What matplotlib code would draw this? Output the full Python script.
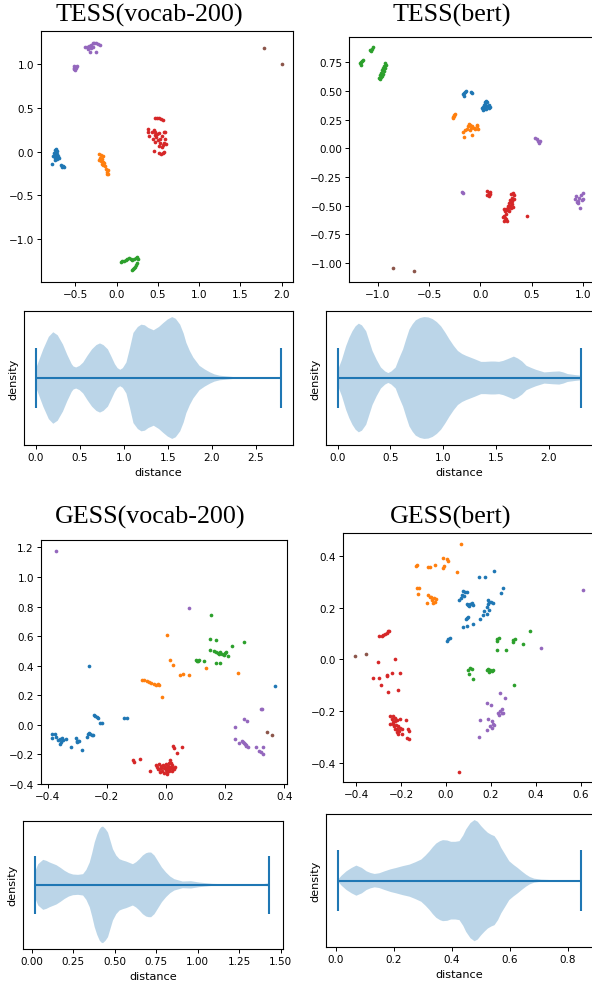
import matplotlib
matplotlib.use("Agg")
import matplotlib.pyplot as plt
import numpy as np

# ---------------- data ----------------
# TESS (vocab-200) scatter
TV_BLUE = [(-0.75,0.02),(-0.73,0.03),(-0.72,0.01),(-0.74,-0.01),(-0.76,-0.02),(-0.72,-0.03),(-0.74,-0.04),
           (-0.77,-0.05),(-0.71,-0.05),(-0.73,-0.06),(-0.75,-0.07),(-0.72,-0.08),(-0.70,-0.07),(-0.74,-0.09),
           (-0.78,-0.14),(-0.67,-0.15),(-0.65,-0.16),(-0.66,-0.18),(-0.64,-0.17)]
TV_ORANGE = [(-0.21,-0.03),(-0.19,-0.04),(-0.17,-0.05),(-0.20,-0.07),(-0.18,-0.08),(-0.21,-0.10),(-0.19,-0.11),
             (-0.17,-0.12),(-0.15,-0.13),(-0.18,-0.14),(-0.16,-0.15),(-0.14,-0.16),(-0.10,-0.21),(-0.11,-0.23),
             (-0.10,-0.25),(-0.12,-0.26),(-0.13,-0.20)]
TV_GREEN = [(0.05,-1.26),(0.07,-1.25),(0.09,-1.25),(0.11,-1.24),(0.13,-1.23),(0.15,-1.22),(0.17,-1.23),
            (0.19,-1.24),(0.21,-1.23),(0.23,-1.22),(0.25,-1.21),(0.26,-1.23),(0.25,-1.28),(0.24,-1.30),
            (0.22,-1.32),(0.20,-1.34),(0.19,-1.35),(0.21,-1.33)]
TV_RED = [(0.47,0.39),(0.49,0.39),(0.52,0.39),(0.54,0.38),(0.56,0.36),(0.38,0.26),(0.38,0.23),(0.39,0.18),
          (0.45,0.25),(0.47,0.22),(0.49,0.20),(0.46,0.19),(0.48,0.17),(0.51,0.21),(0.53,0.15),(0.55,0.18),
          (0.50,0.13),(0.57,0.23),(0.59,0.22),(0.58,0.10),(0.56,0.08),(0.55,0.05),(0.53,0.10),(0.45,0.01),
          (0.52,-0.01),(0.54,-0.03),(0.56,-0.02),(0.57,0.00),(0.60,0.09),(0.44,0.15),(0.47,0.11),(0.51,0.06),
          (0.59,0.15),(0.43,0.22)]
TV_PURPLE = [(-0.38,1.20),(-0.36,1.20),(-0.33,1.21),(-0.31,1.22),(-0.29,1.24),(-0.27,1.25),(-0.25,1.24),
             (-0.22,1.23),(-0.20,1.22),(-0.28,1.20),(-0.31,1.19),(-0.32,1.14),(-0.25,1.14),(-0.34,1.18),
             (-0.51,0.98),(-0.50,0.97),(-0.49,0.96),(-0.51,0.95),(-0.50,0.94),(-0.49,0.97),(-0.52,0.96),(-0.48,0.98)]
TV_BROWN = [(1.79,1.19),(2.00,1.00)]

# TESS (bert) scatter
TB_BLUE = [(-0.17,0.47),(-0.16,0.48),(-0.15,0.49),(-0.14,0.50),(-0.16,0.46),(-0.09,0.49),(-0.08,0.48),
           (0.02,0.35),(0.03,0.36),(0.04,0.38),(0.05,0.40),(0.06,0.41),(0.07,0.40),(0.08,0.38),(0.05,0.36),
           (0.06,0.34),(0.03,0.33),(0.04,0.34),(0.08,0.35),(0.09,0.36),(0.07,0.37),(0.05,0.39)]
TB_ORANGE = [(-0.27,0.27),(-0.26,0.28),(-0.25,0.30),(-0.26,0.29),(-0.27,0.26),(-0.17,0.14),(-0.16,0.10),
             (-0.15,0.16),(-0.13,0.17),(-0.12,0.19),(-0.11,0.21),(-0.10,0.20),(-0.09,0.18),(-0.08,0.19),
             (-0.06,0.18),(-0.05,0.17),(-0.03,0.19),(-0.02,0.17),(-0.03,0.20),(-0.08,0.12),(-0.10,0.16)]
TB_GREEN = [(-1.08,0.86),(-1.06,0.87),(-1.07,0.85),(-1.05,0.88),(-1.17,0.74),(-1.16,0.75),(-1.15,0.76),
            (-1.14,0.77),(-1.16,0.73),(-0.93,0.74),(-0.92,0.73),(-0.94,0.72),(-0.95,0.70),(-0.93,0.70),
            (-0.96,0.68),(-0.97,0.66),(-0.95,0.65),(-0.98,0.64),(-0.97,0.62),(-0.99,0.61),(-0.98,0.60),
            (-0.96,0.63),(-0.94,0.67)]
TB_RED = [(0.07,-0.37),(0.08,-0.39),(0.07,-0.41),(0.09,-0.38),(0.08,-0.42),(0.09,-0.40),
          (0.30,-0.40),(0.32,-0.39),(0.33,-0.41),(0.31,-0.43),(0.29,-0.45),(0.30,-0.47),(0.28,-0.48),
          (0.29,-0.50),(0.31,-0.49),(0.32,-0.51),(0.27,-0.52),(0.25,-0.53),(0.23,-0.53),(0.24,-0.55),
          (0.26,-0.54),(0.28,-0.55),(0.25,-0.57),(0.23,-0.59),(0.24,-0.61),(0.22,-0.60),(0.25,-0.62),
          (0.26,-0.63),(0.23,-0.63),(0.31,-0.46),(0.33,-0.44),(0.30,-0.52),(0.27,-0.50),(0.46,-0.59)]
TB_PURPLE = [(0.53,0.09),(0.55,0.08),(0.56,0.06),(0.57,0.05),(0.58,0.06),(-0.18,-0.38),(-0.17,-0.39),
             (0.92,-0.44),(0.93,-0.42),(0.95,-0.46),(0.96,-0.43),(0.94,-0.47),(0.98,-0.41),(1.00,-0.39),
             (0.97,-0.52),(1.00,-0.44),(0.99,-0.45),(0.95,-0.48)]
TB_BROWN = [(-0.85,-1.04),(-0.65,-1.07)]

# GESS (vocab-200) scatter
GV_BLUE = [(-0.384,-0.065),(-0.384,-0.088),(-0.375,-0.065),(-0.373,-0.083),(-0.366,-0.101),(-0.358,-0.095),
           (-0.355,-0.117),(-0.358,-0.128),(-0.350,-0.090),(-0.347,-0.100),(-0.339,-0.099),(-0.321,-0.153),
           (-0.305,-0.090),(-0.302,-0.106),(-0.297,-0.112),(-0.295,-0.106),(-0.300,-0.117),(-0.283,-0.173),
           (-0.268,-0.083),(-0.264,-0.061),(-0.260,-0.054),(-0.255,-0.065),(-0.251,-0.070),(-0.246,-0.068),
           (-0.242,0.068),(-0.238,0.059),(-0.234,0.050),(-0.229,0.045),(-0.223,0.014),(-0.217,0.014),
           (-0.141,0.045),(-0.133,0.045),(-0.260,0.396),(0.370,0.261)]
GV_ORANGE = [(0.005,0.610),(0.014,0.439),(0.025,0.405),(0.047,0.340),(0.058,0.347),(0.077,0.338),
             (0.134,0.383),(0.245,0.351),(-0.080,0.306),(-0.073,0.300),(-0.065,0.296),(-0.057,0.290),
             (-0.049,0.284),(-0.039,0.277),(-0.034,0.272),(-0.028,0.273),(-0.022,0.268),(-0.012,0.187)]
GV_GREEN = [(0.153,0.745),(0.150,0.581),(0.170,0.572),(0.263,0.559),(0.224,0.532),(0.148,0.509),
            (0.161,0.502),(0.168,0.491),(0.176,0.486),(0.183,0.491),(0.189,0.482),(0.196,0.473),
            (0.201,0.486),(0.204,0.491),(0.209,0.464),(0.180,0.480),(0.103,0.439),(0.108,0.430),
            (0.112,0.439),(0.106,0.432),(0.130,0.435),(0.170,0.421),(0.183,0.417)]
GV_RED = [(-0.110,-0.241),(-0.107,-0.252),(-0.087,-0.230),(-0.054,-0.309),(0.025,-0.144),(0.028,-0.158),
          (0.036,-0.191),(0.055,-0.149),(-0.033,-0.270),(-0.030,-0.285),(-0.025,-0.265),(-0.022,-0.300),
          (-0.018,-0.278),(-0.015,-0.290),(-0.012,-0.310),(-0.010,-0.270),(-0.006,-0.295),(-0.003,-0.282),
          (0.000,-0.305),(0.002,-0.320),(0.005,-0.290),(0.008,-0.275),(0.010,-0.300),(0.012,-0.315),
          (0.015,-0.285),(0.018,-0.295),(0.020,-0.310),(0.022,-0.270),(0.025,-0.290),(0.028,-0.300),
          (0.013,-0.240),(0.018,-0.255),(0.030,-0.285),(-0.005,-0.325),(0.005,-0.330),(-0.020,-0.320),
          (-0.028,-0.300),(0.000,-0.268),(0.010,-0.255)]
GV_PURPLE = [(-0.370,1.178),(0.078,0.788),(0.321,0.106),(0.325,0.104),(0.264,0.041),(0.273,0.025),
             (0.235,-0.014),(0.235,-0.095),(0.248,-0.124),(0.257,-0.106),(0.261,-0.115),(0.266,-0.128),
             (0.270,-0.135),(0.276,-0.151),(0.263,-0.120),(0.272,-0.140),(0.304,-0.153),(0.313,-0.180),
             (0.320,-0.185),(0.329,-0.196),(0.329,-0.153)]
GV_BROWN = [(0.343,-0.050),(0.358,-0.068)]

# GESS (bert) scatter
GB_BLUE = [(0.214,0.342),(0.149,0.316),(0.174,0.316),(0.253,0.275),(0.245,0.255),(0.077,0.265),(0.085,0.258),
           (0.092,0.258),(0.070,0.249),(0.080,0.245),(0.065,0.236),(0.059,0.228),(0.092,0.213),(0.099,0.209),
           (0.107,0.213),(0.114,0.216),(0.119,0.209),(0.104,0.207),(0.186,0.228),(0.193,0.223),(0.200,0.222),
           (0.208,0.219),(0.189,0.213),(0.181,0.203),(0.168,0.185),(0.193,0.190),(0.181,0.174),(0.163,0.170),
           (0.152,0.155),(0.092,0.161),(0.099,0.164),(0.089,0.155),(0.077,0.125),(0.092,0.129),(0.119,0.138),
           (0.010,0.077),(0.018,0.081),(0.006,0.071)]
GB_ORANGE = [(0.065,0.443),(-0.015,0.390),(0.003,0.387),(0.007,0.380),(-0.009,0.361),(-0.012,0.352),
             (-0.131,0.365),(-0.134,0.359),(-0.079,0.357),(-0.071,0.355),(-0.049,0.364),(0.050,0.338),
             (-0.128,0.277),(-0.121,0.277),(-0.126,0.254),(-0.079,0.249),(-0.071,0.241),(-0.083,0.219),
             (-0.064,0.231),(-0.053,0.235),(-0.045,0.232),(-0.049,0.222),(-0.059,0.219),(-0.068,0.240)]
GB_GREEN = [(0.374,0.110),(0.229,0.077),(0.238,0.083),(0.226,0.070),(0.297,0.074),(0.307,0.077),(0.300,0.067),
            (0.342,0.058),(0.226,0.035),(0.267,0.035),(0.107,-0.032),(0.100,-0.041),(0.114,-0.035),
            (0.104,-0.054),(0.119,-0.077),(0.181,-0.041),(0.189,-0.038),(0.196,-0.041),(0.204,-0.045),
            (0.193,-0.049),(0.208,-0.041),(0.303,-0.100)]
GB_RED = [(-0.297,0.090),(-0.287,0.092),(-0.279,0.096),(-0.272,0.098),(-0.264,0.102),(-0.257,0.109),
          (-0.252,0.111),(-0.305,-0.009),(-0.227,0.000),(-0.324,-0.073),(-0.299,-0.070),(-0.264,-0.058),
          (-0.264,-0.062),(-0.239,-0.051),(-0.205,-0.051),(-0.291,-0.100),(-0.260,-0.124),(-0.212,-0.118),
          (0.058,-0.435),(-0.250,-0.217),(-0.235,-0.217),(-0.227,-0.224),(-0.242,-0.230),(-0.238,-0.240),
          (-0.227,-0.237),(-0.220,-0.233),(-0.205,-0.228),(-0.250,-0.249),(-0.235,-0.249),(-0.223,-0.253),
          (-0.212,-0.258),(-0.205,-0.262),(-0.217,-0.269),(-0.227,-0.266),(-0.208,-0.275),(-0.198,-0.269),
          (-0.212,-0.288),(-0.198,-0.288),(-0.178,-0.234),(-0.168,-0.266),(-0.163,-0.275),(-0.175,-0.304),
          (-0.165,-0.307),(-0.220,-0.279),(-0.232,-0.258)]
GB_PURPLE = [(0.609,0.267),(0.422,0.043),(0.241,-0.128),(0.263,-0.147),(0.181,-0.169),(0.199,-0.176),
             (0.248,-0.189),(0.241,-0.198),(0.233,-0.207),(0.248,-0.207),(0.256,-0.205),(0.237,-0.214),
             (0.152,-0.233),(0.189,-0.230),(0.204,-0.237),(0.211,-0.249),(0.196,-0.256),(0.204,-0.262),
             (0.214,-0.253),(0.181,-0.272),(0.149,-0.300)]
GB_BROWN = [(-0.406,0.015),(-0.357,0.023)]

# Violin density profiles (distance grid, relative density) and extrema
TV_DIST = [0.0,0.087,0.15,0.2,0.25,0.31,0.36,0.41,0.43,0.46,0.50,0.54,0.59,0.64,0.69,0.73,0.77,0.82,0.86,
           0.90,0.93,0.96,0.99,1.03,1.07,1.11,1.16,1.20,1.24,1.28,1.34,1.40,1.45,1.50,1.55,1.59,1.64,1.68,
           1.71,1.75,1.79,1.86,1.92,1.98,2.03,2.09,2.24,2.47,2.78]
TV_DENS = [25,87,125,139,130,102,70,42,35,32,37,47,68,87,100,105,100,87,65,42,30,25,30,47,90,137,155,162,
           160,152,145,155,167,178,185,180,162,135,107,82,62,37,26,17,11,7,3,1.5,1]
TV_MIN, TV_MAX = 0.0, 2.78

TB_DIST = [0.0,0.04,0.08,0.11,0.14,0.17,0.2,0.23,0.27,0.30,0.33,0.37,0.41,0.45,0.48,0.51,0.55,0.58,0.62,
           0.65,0.68,0.71,0.74,0.78,0.82,0.86,0.90,0.94,0.98,1.02,1.06,1.10,1.14,1.18,1.22,1.26,1.30,1.36,
           1.40,1.45,1.49,1.53,1.57,1.61,1.67,1.71,1.75,1.79,1.84,1.88,1.96,2.00,2.04,2.10,2.14,2.18,2.25,2.31]
TB_DENS = [22,55,97,122,142,157,165,160,142,112,82,55,32,20,15,20,32,57,87,118,147,163,175,182,185,184,
           179,170,157,138,117,98,82,73,67,62,57,49,49,50,50,49,52,57,65,59,50,37,30,25,17,18,19,20,17,12,9,7]
TB_MIN, TB_MAX = 0.0, 2.31

GV_DIST = [0.02,0.03,0.04,0.07,0.09,0.11,0.13,0.15,0.175,0.2,0.225,0.25,0.28,0.31,0.33,0.35,0.365,0.38,
           0.395,0.41,0.42,0.43,0.445,0.46,0.475,0.49,0.51,0.53,0.55,0.57,0.59,0.61,0.63,0.65,0.67,0.69,
           0.705,0.72,0.74,0.76,0.785,0.81,0.835,0.86,0.91,0.96,1.01,1.05,1.09,1.15,1.21,1.38,1.42,1.43]
GV_DENS = [37,50,62,75,72,67,63,59,51,42,35,31,30,32,45,67,95,127,150,167,173,175,168,157,132,107,88,77,
           73,70,66,62,68,77,88,95,97,97,88,72,52,37,25,17,10,11,7,5,3,2,1,1,4,3]
GV_MIN, GV_MAX = 0.02, 1.43

GB_DIST = [0.008,0.02,0.037,0.055,0.071,0.09,0.106,0.12,0.134,0.15,0.169,0.19,0.209,0.23,0.255,0.275,0.295,
           0.31,0.324,0.335,0.347,0.36,0.370,0.385,0.398,0.413,0.427,0.44,0.45,0.465,0.479,0.49,0.502,0.514,
           0.525,0.537,0.548,0.56,0.571,0.585,0.599,0.614,0.628,0.642,0.657,0.67,0.685,0.71,0.737,0.79,0.846]
GB_DENS = [3,15,28,38,45,38,28,23,20,22,28,34,38,43,48,55,63,75,88,100,111,118,121,120,116,116,118,135,153,
           172,181,176,163,152,143,137,133,118,98,78,58,47,38,28,18,11,6,3,2,1,0.5]
GB_MIN, GB_MAX = 0.008, 0.846

# ---------------- layout ----------------
W, H = 592, 987
fig = plt.figure(figsize=(W / 100, H / 100), dpi=100)
TICK_FS = 7.5


def add_ax(left, top, right, bottom):
    return fig.add_axes([left / W, 1 - bottom / H, (right - left) / W, (bottom - top) / H])


def style(ax):
    ax.tick_params(labelsize=TICK_FS, length=2.8, width=0.7, pad=2.3)
    for s in ax.spines.values():
        s.set_linewidth(0.8)


def scatter_panel(ax, groups, xlim, ylim, xticks, yticks):
    for pts, c in zip(groups, ["C0", "C1", "C2", "C3", "C4", "C5"]):
        arr = np.array(pts)
        ax.scatter(arr[:, 0], arr[:, 1], s=7, color=c, linewidths=0)
    ax.set_xlim(*xlim)
    ax.set_ylim(*ylim)
    ax.set_xticks(xticks)
    ax.set_yticks(yticks)
    style(ax)


def violin_panel(ax, dist, dens, vmin, vmax, xlim, xticks, fmt=None):
    stats = [dict(coords=np.array(dist), vals=np.array(dens, dtype=float), mean=float(np.median(dist)),
                  median=float(np.median(dist)), min=vmin, max=vmax)]
    try:
        ax.violin(stats, positions=[1], widths=0.5, orientation="horizontal")
    except TypeError:
        ax.violin(stats, positions=[1], widths=0.5, vert=False)
    ax.set_xlim(*xlim)
    ax.set_ylim(0.725, 1.275)
    ax.set_yticks([])
    ax.set_xticks(xticks)
    if fmt:
        ax.set_xticklabels([fmt.format(t).replace("-", "\u2212") for t in xticks])
    ax.set_xlabel("distance", fontsize=TICK_FS + 0.6, labelpad=3.5)
    ax.set_ylabel("density", fontsize=TICK_FS + 0.6, labelpad=4)
    style(ax)


# Titles
title_kw = dict(family=["Liberation Serif", "DejaVu Serif"], fontsize=18.7, ha="center", va="baseline")
fig.text(149 / W, 1 - 22 / H, "TESS(vocab-200)", **title_kw)
fig.text(452 / W, 1 - 22 / H, "TESS(bert)", **title_kw)
fig.text(150 / W, 1 - 524 / H, "GESS(vocab-200)", **title_kw)
fig.text(451 / W, 1 - 524 / H, "GESS(bert)", **title_kw)

# TESS vocab-200
ax = add_ax(41, 32, 293, 283)
scatter_panel(ax, [TV_BLUE, TV_ORANGE, TV_GREEN, TV_RED, TV_PURPLE, TV_BROWN],
              (-0.915, 2.137), (-1.492, 1.382), [-0.5, 0.0, 0.5, 1.0, 1.5, 2.0], [-1.0, -0.5, 0.0, 0.5, 1.0])
ax = add_ax(24, 312, 293, 446)
violin_panel(ax, TV_DIST, TV_DENS, TV_MIN, TV_MAX, (-0.132, 2.92), [0.0, 0.5, 1.0, 1.5, 2.0, 2.5])

# TESS bert
ax = add_ax(349.3, 38.3, 594, 283.3)
scatter_panel(ax, [TB_BLUE, TB_ORANGE, TB_GREEN, TB_RED, TB_PURPLE, TB_BROWN],
              (-1.278, 1.109), (-1.169, 0.968), [-1.0, -0.5, 0.0, 0.5, 1.0],
              [-1.0, -0.75, -0.5, -0.25, 0.0, 0.25, 0.5, 0.75])
ax = add_ax(326, 312, 593, 446)
violin_panel(ax, TB_DIST, TB_DENS, TB_MIN, TB_MAX, (-0.111, 2.42), [0.0, 0.5, 1.0, 1.5, 2.0])

# GESS vocab-200
ax = add_ax(41, 540.7, 287.3, 785)
scatter_panel(ax, [GV_BLUE, GV_ORANGE, GV_GREEN, GV_RED, GV_PURPLE, GV_BROWN],
              (-0.422, 0.41), (-0.399, 1.252), [-0.4, -0.2, 0.0, 0.2, 0.4],
              [-0.4, -0.2, 0.0, 0.2, 0.4, 0.6, 0.8, 1.0, 1.2])
ax = add_ax(23.3, 821.7, 282.7, 950)
violin_panel(ax, GV_DIST, GV_DENS, GV_MIN, GV_MAX, (-0.05, 1.512),
             [0.0, 0.25, 0.5, 0.75, 1.0, 1.25, 1.5], fmt="{:.2f}")

# GESS bert
ax = add_ax(343.3, 534.3, 594, 783.3)
scatter_panel(ax, [GB_BLUE, GB_ORANGE, GB_GREEN, GB_RED, GB_PURPLE, GB_BROWN],
              (-0.458, 0.66), (-0.473, 0.486), [-0.4, -0.2, 0.0, 0.2, 0.4, 0.6],
              [-0.4, -0.2, 0.0, 0.2, 0.4])
ax = add_ax(326, 815, 593.3, 948.3)
violin_panel(ax, GB_DIST, GB_DENS, GB_MIN, GB_MAX, (-0.034, 0.889), [0.0, 0.2, 0.4, 0.6, 0.8])

fig.savefig("out.png", dpi=100)
